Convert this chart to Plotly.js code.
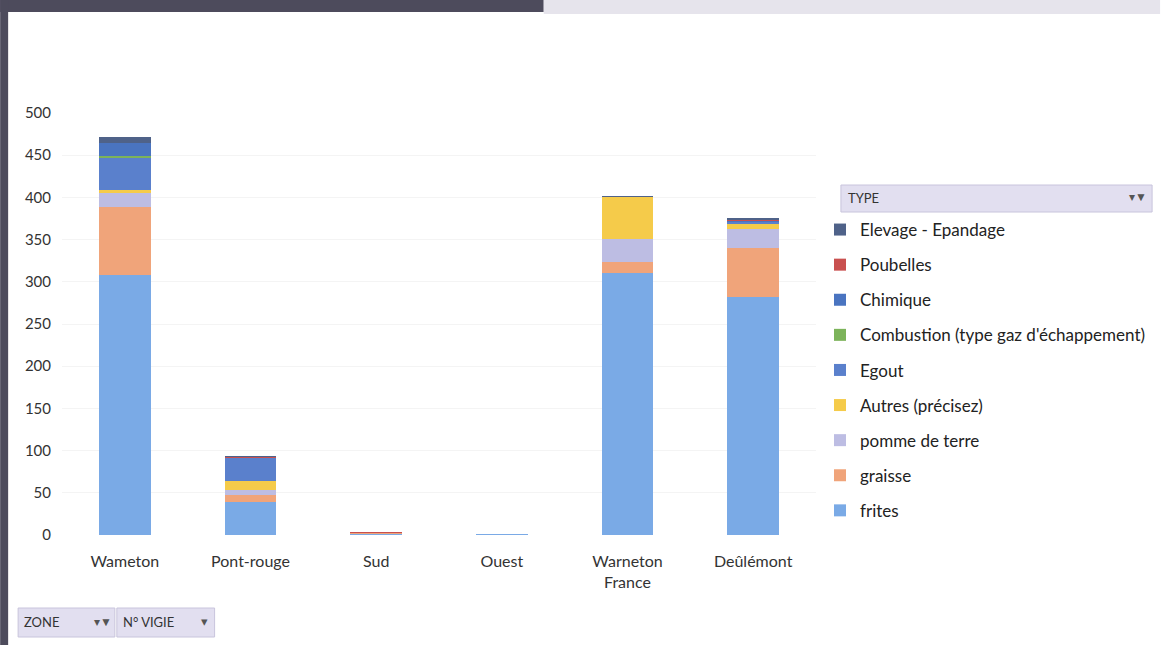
<!DOCTYPE html>
<html>
<head>
<meta charset="utf-8">
<script src="https://cdn.plot.ly/plotly-3.0.1.min.js"></script>
<style>html,body{margin:0;padding:0;background:#fff;}#chart{width:1163px;height:645px;}</style>
</head>
<body>
<div id="chart"></div>
<script>
const zones = ["Wameton", "Pont-rouge", "Sud", "Ouest", "Warneton<br>France", "Deûlémont"];
const frites        = [308, 39, 1, 1, 310, 282];
const graisse       = [81, 8, 1, 0, 14, 58];
const pommeDeTerre  = [16, 6, 0, 0, 27, 22];
const autres        = [4, 11, 0, 0, 49, 6];
const egout         = [38, 27, 0, 0, 1, 3];
const combustion    = [2, 0, 0, 0, 0, 0];
const chimique      = [15, 0, 0, 0, 0, 1];
const poubelles     = [1, 1, 1, 0.5, 0, 1];
const elevage       = [6, 2, 0, 0, 1, 3];
const yTicks = [0, 50, 100, 150, 200, 250, 300, 350, 400, 450, 500];

const series = [
  {name: "frites", y: frites, color: "#7aaae6"},
  {name: "graisse", y: graisse, color: "#f0a47a"},
  {name: "pomme de terre", y: pommeDeTerre, color: "#bdbde3"},
  {name: "Autres (précisez)", y: autres, color: "#f5cb4a"},
  {name: "Egout", y: egout, color: "#5a80cc"},
  {name: "Combustion (type gaz d'échappement)", y: combustion, color: "#7cb35a"},
  {name: "Chimique", y: chimique, color: "#4a74c0"},
  {name: "Poubelles", y: poubelles, color: "#c9504f"},
  {name: "Elevage - Epandage", y: elevage, color: "#4f6289"}
];

const traces = series.map((s, i) => ({
  type: "bar", x: zones, y: s.y, name: s.name, legendgroup: s.name,
  legendrank: 1000 - i,
  marker: {color: s.color, line: {width: 0}}
}));

// pixel -> paper helpers
const L = 62, R = 818, T = 113, B = 535;
const px = v => (v - L) / (R - L);
const py = v => (B - v) / (B - T);

const font = "Lato, 'Open Sans', sans-serif";

const shapes = [
  {type: "rect", xref: "paper", yref: "paper", x0: px(0), x1: px(545), y0: py(0), y1: py(12), fillcolor: "#4d4b5c", line: {width: 0}, layer: "above"},
  {type: "rect", xref: "paper", yref: "paper", x0: px(545), x1: px(1163), y0: py(0), y1: py(14), fillcolor: "#e6e4ec", line: {width: 0}, layer: "above"},
  {type: "rect", xref: "paper", yref: "paper", x0: px(0), x1: px(8), y0: py(0), y1: py(645), fillcolor: "#4d4b5c", line: {width: 0}, layer: "above"},
  {type: "rect", xref: "paper", yref: "paper", x0: px(843), x1: px(1155), y0: py(185), y1: py(212), fillcolor: "#e2dff0", line: {color: "#c8c4dc", width: 1}},
  {type: "rect", xref: "paper", yref: "paper", x0: px(18), x1: px(115), y0: py(608), y1: py(637), fillcolor: "#e2dff0", line: {color: "#c8c4dc", width: 1}},
  {type: "rect", xref: "paper", yref: "paper", x0: px(117), x1: px(215), y0: py(608), y1: py(637), fillcolor: "#e2dff0", line: {color: "#c8c4dc", width: 1}}
];

const annotations = [
  {text: "TYPE", xref: "paper", yref: "paper", x: px(848), y: py(198), xanchor: "left", yanchor: "middle", showarrow: false, font: {family: font, size: 13, color: "#333"}},
  {text: "▾▼", xref: "paper", yref: "paper", x: px(1152), y: py(197), xanchor: "right", yanchor: "middle", showarrow: false, font: {family: font, size: 12, color: "#555"}},
  {text: "ZONE", xref: "paper", yref: "paper", x: px(22), y: py(622), xanchor: "left", yanchor: "middle", showarrow: false, font: {family: font, size: 13, color: "#333"}},
  {text: "▾▼", xref: "paper", yref: "paper", x: px(114), y: py(621), xanchor: "right", yanchor: "middle", showarrow: false, font: {family: font, size: 12, color: "#555"}},
  {text: "N° VIGIE", xref: "paper", yref: "paper", x: px(121), y: py(622), xanchor: "left", yanchor: "middle", showarrow: false, font: {family: font, size: 13, color: "#333"}},
  {text: "▾", xref: "paper", yref: "paper", x: px(210), y: py(621), xanchor: "right", yanchor: "middle", showarrow: false, font: {family: font, size: 13, color: "#555"}}
];

const layout = {
  width: 1163, height: 645,
  margin: {l: L, r: 1163 - R, t: T, b: 645 - B},
  paper_bgcolor: "#ffffff", plot_bgcolor: "#ffffff",
  barmode: "stack", bargap: 0.59,
  font: {family: font, color: "#333"},
  xaxis: {type: "category", tickfont: {family: font, size: 16, color: "#333"}, showgrid: false, zeroline: false, showline: false, ticks: "", ticklabelstandoff: 15},
  yaxis: {range: [0, 500], tickvals: yTicks, ticktext: yTicks.map(String), tickfont: {family: font, size: 15, color: "#333"}, showgrid: true, gridcolor: "#f4f4f4", zeroline: false, showline: false, ticklabelstandoff: 10},
  showlegend: true,
  legend: {x: px(822), y: py(212), xanchor: "left", yanchor: "top", traceorder: "grouped", tracegroupgap: 10, font: {family: font, size: 17, color: "#222"}, bgcolor: "rgba(0,0,0,0)", itemwidth: 30},
  shapes: shapes,
  annotations: annotations
};

Plotly.newPlot("chart", traces, layout, {displayModeBar: false, staticPlot: true});
</script>
</body>
</html>
